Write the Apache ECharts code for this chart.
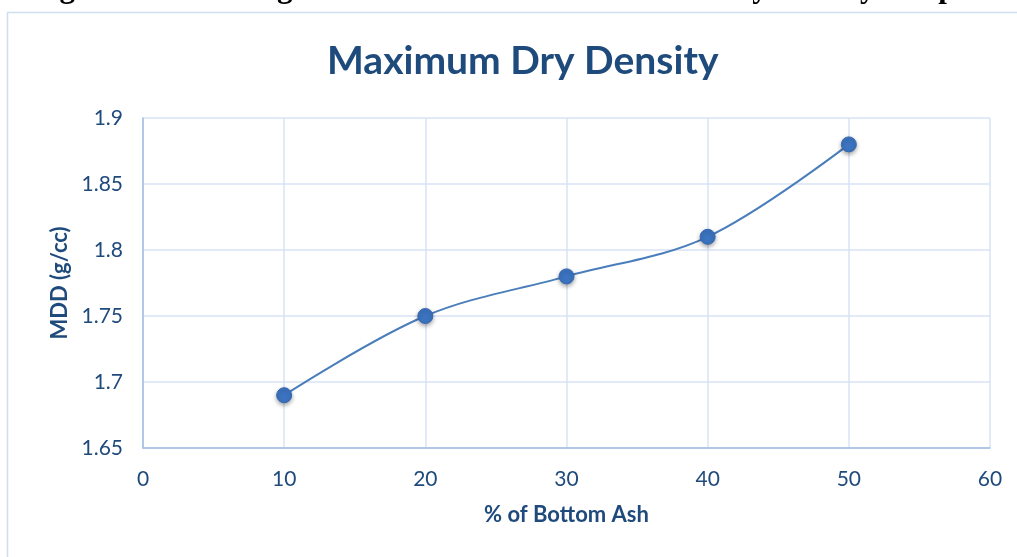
<!DOCTYPE html>
<html>
<head>
<meta charset="utf-8">
<script src="https://cdn.jsdelivr.net/npm/echarts@6/dist/echarts.min.js"></script>
<style>
html,body{margin:0;padding:0;background:#fff;}
#chart{width:1017px;height:557px;}
</style>
</head>
<body>
<div id="chart"></div>
<script>
const ashPercent = [10, 20, 30, 40, 50];
const mddValues = [1.69, 1.75, 1.78, 1.81, 1.88];
const chartTitle = 'Maximum Dry Density';
const captionText = 'Figure 4: Percentage of Bottom Ash and Maximum Dry Density comparison';
const xAxisName = '% of Bottom Ash';
const yAxisName = 'MDD (g/cc)';

const points = ashPercent.map((x, i) => [x, mddValues[i]]);
const textColor = '#1f4a7c';
const font = 'Lato, "Open Sans", sans-serif';

const chart = echarts.init(document.getElementById('chart'), null, {renderer: 'canvas'});
chart.setOption({
  backgroundColor: '#ffffff',
  animation: false,
  title: {
    text: chartTitle,
    left: 322,
    top: 37,
    textStyle: {fontFamily: font, fontWeight: 'bold', fontSize: 39, color: textColor}
  },
  graphic: [
    {
      type: 'rect',
      shape: {x: 7.5, y: 12.5, width: 1100, height: 600},
      style: {fill: 'none', stroke: '#cfdff2', lineWidth: 1.5},
      silent: true, z: -1
    },
    {
      type: 'text',
      x: 32, y: 4,
      style: {
        text: captionText,
        font: 'bold 31px "Liberation Serif", "Times New Roman", serif',
        fill: '#000',
        verticalAlign: 'bottom'
      },
      silent: true
    }
  ],
  grid: {left: 143, right: 27, top: 118, bottom: 109, containLabel: false},
  xAxis: {
    type: 'value',
    min: 0, max: 60, interval: 10,
    name: xAxisName,
    nameLocation: 'middle',
    nameGap: 56,
    nameTextStyle: {fontFamily: font, fontWeight: 'bold', fontSize: 22, color: textColor},
    axisLine: {show: true, lineStyle: {color: '#9fbde3', width: 1.5}},
    axisTick: {show: false},
    axisLabel: {fontFamily: font, fontSize: 21, color: textColor, margin: 21},
    splitLine: {show: true, lineStyle: {color: '#d7e3f3', width: 1.5}}
  },
  yAxis: {
    type: 'value',
    min: 1.65, max: 1.9, interval: 0.05,
    name: yAxisName,
    nameLocation: 'middle',
    nameGap: 72,
    nameRotate: 90,
    nameTextStyle: {fontFamily: font, fontWeight: 'bold', fontSize: 22, color: textColor},
    axisLine: {show: true, lineStyle: {color: '#9fbde3', width: 1.5}},
    axisTick: {show: false},
    axisLabel: {
      fontFamily: font, fontSize: 21, color: textColor, margin: 20,
      formatter: v => String(+v.toFixed(2))
    },
    splitLine: {show: true, lineStyle: {color: '#d7e3f3', width: 1.5}}
  },
  series: [{
    type: 'line',
    data: points,
    smooth: 0.35,
    symbol: 'circle',
    symbolSize: 15,
    lineStyle: {color: '#4a7ebb', width: 2},
    itemStyle: {
      color: '#3c74c1',
      borderColor: '#3568b0',
      borderWidth: 1,
      shadowBlur: 4,
      shadowColor: 'rgba(0,0,0,0.35)',
      shadowOffsetY: 2
    }
  }]
});
</script>
</body>
</html>
